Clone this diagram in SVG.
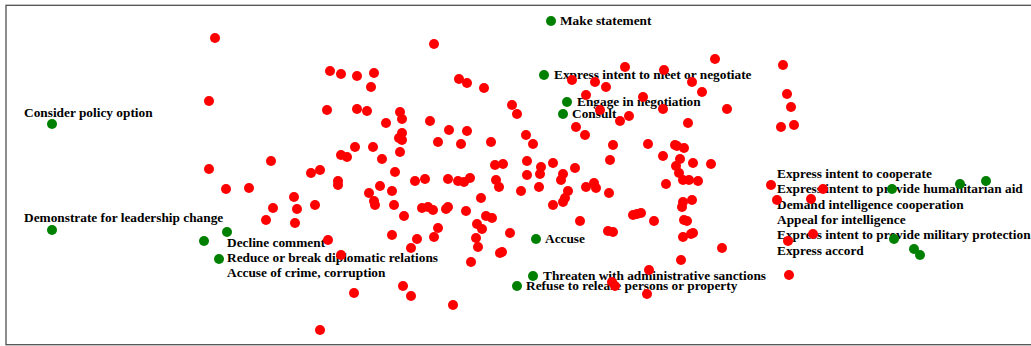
<svg xmlns="http://www.w3.org/2000/svg" width="1031" height="346" viewBox="0 0 1031 346">
<style>
.r{fill:#ff0000}
.g{fill:#008000}
text{font-family:"Liberation Serif","Times New Roman",serif;font-weight:bold;font-size:13.33px;fill:#000}
</style>
<rect x="0" y="0" width="1031" height="346" fill="#ffffff"/>
<rect x="6" y="5.3" width="1040" height="339.4" fill="none" stroke="#505050" stroke-width="1.3"/>
<g id="labels">
<text x="560" y="24.5">Make statement</text>
<text x="554" y="79">Express intent to meet or negotiate</text>
<text x="577" y="105.5">Engage in negotiation</text>
<text x="572" y="117.5">Consult</text>
<text x="24" y="117">Consider policy option</text>
<text x="24" y="222.3">Demonstrate for leadership change</text>
<text x="227" y="246.5">Decline comment</text>
<text x="227" y="262">Reduce or break diplomatic relations</text>
<text x="227" y="277">Accuse of crime, corruption</text>
<text x="545" y="243">Accuse</text>
<text x="543" y="279.5">Threaten with administrative sanctions</text>
<text x="526" y="290">Refuse to release persons or property</text>
<text x="777" y="177.5">Express intent to cooperate</text>
<text x="777" y="193">Express intent to provide humanitarian aid</text>
<text x="777" y="208.5">Demand intelligence cooperation</text>
<text x="777" y="224">Appeal for intelligence</text>
<text x="777" y="239">Express intent to provide military protection</text>
<text x="777" y="254.5">Express accord</text>
</g>
<g id="red-points" class="r">
<circle cx="215" cy="38" r="5"/><circle cx="209" cy="101" r="5"/><circle cx="209" cy="169" r="5"/>
<circle cx="434" cy="44" r="5"/><circle cx="330" cy="71" r="5"/><circle cx="341" cy="74" r="5"/><circle cx="357" cy="76" r="5"/><circle cx="374" cy="73" r="5"/><circle cx="371" cy="87" r="5"/><circle cx="459" cy="79" r="5"/><circle cx="467" cy="83" r="5"/><circle cx="484" cy="88" r="5"/><circle cx="512" cy="105" r="5"/><circle cx="517" cy="114" r="5"/><circle cx="327" cy="110" r="5"/><circle cx="357" cy="109" r="5"/><circle cx="367" cy="111" r="5"/><circle cx="400" cy="112" r="5"/><circle cx="402" cy="119" r="5"/><circle cx="386" cy="123" r="5"/><circle cx="430" cy="121" r="5"/><circle cx="449" cy="130" r="5"/><circle cx="467" cy="131" r="5"/><circle cx="402" cy="133" r="5"/><circle cx="399" cy="138" r="5"/><circle cx="402" cy="140" r="5"/><circle cx="438" cy="142" r="5"/><circle cx="461" cy="144" r="5"/><circle cx="491" cy="142" r="5"/><circle cx="355" cy="147" r="5"/><circle cx="373" cy="147" r="5"/><circle cx="341" cy="155" r="5"/><circle cx="347" cy="157" r="5"/><circle cx="382" cy="159" r="5"/><circle cx="400" cy="152" r="5"/><circle cx="495" cy="165" r="5"/><circle cx="503" cy="164" r="5"/><circle cx="271" cy="161" r="5"/><circle cx="311" cy="173" r="5"/><circle cx="320" cy="170" r="5"/><circle cx="395" cy="172" r="5"/>
<circle cx="625" cy="67" r="5"/><circle cx="664" cy="70" r="5"/><circle cx="715" cy="59" r="5"/><circle cx="572" cy="80" r="5"/><circle cx="595" cy="82" r="5"/><circle cx="606" cy="87" r="5"/><circle cx="692" cy="82" r="5"/><circle cx="702" cy="92" r="5"/><circle cx="586" cy="95" r="5"/><circle cx="643" cy="97" r="5"/><circle cx="600" cy="110" r="5"/><circle cx="620" cy="121" r="5"/><circle cx="629" cy="116" r="5"/><circle cx="663" cy="109" r="5"/><circle cx="727" cy="109" r="5"/><circle cx="688" cy="123" r="5"/><circle cx="576" cy="127" r="5"/><circle cx="585" cy="135" r="5"/><circle cx="526" cy="135" r="5"/><circle cx="533" cy="144" r="5"/><circle cx="613" cy="145" r="5"/><circle cx="648" cy="144" r="5"/><circle cx="675" cy="145" r="5"/><circle cx="677" cy="146" r="5"/><circle cx="684" cy="148" r="5"/><circle cx="663" cy="156" r="5"/><circle cx="680" cy="159" r="5"/><circle cx="610" cy="160" r="5"/><circle cx="527" cy="161" r="5"/><circle cx="541" cy="167" r="5"/><circle cx="553" cy="163" r="5"/><circle cx="575" cy="168" r="5"/><circle cx="693" cy="163" r="5"/><circle cx="711" cy="164" r="5"/><circle cx="676" cy="166" r="5"/><circle cx="679" cy="173" r="5"/><circle cx="563" cy="174" r="5"/><circle cx="540" cy="174" r="5"/>
<circle cx="783" cy="65" r="5"/><circle cx="787" cy="94" r="5"/><circle cx="791" cy="107" r="5"/><circle cx="781" cy="127" r="5"/><circle cx="794" cy="125" r="5"/>
<circle cx="226" cy="189" r="5"/><circle cx="249" cy="188" r="5"/>
<circle cx="338" cy="181" r="5"/><circle cx="338" cy="185" r="5"/><circle cx="415" cy="181" r="5"/><circle cx="425" cy="179" r="5"/><circle cx="448" cy="179" r="5"/><circle cx="458" cy="181" r="5"/><circle cx="464" cy="182" r="5"/><circle cx="470" cy="178" r="5"/><circle cx="496" cy="180" r="5"/><circle cx="499" cy="187" r="5"/><circle cx="521" cy="191" r="5"/><circle cx="380" cy="186" r="5"/><circle cx="369" cy="193" r="5"/><circle cx="392" cy="191" r="5"/><circle cx="374" cy="201" r="5"/><circle cx="375" cy="205" r="5"/><circle cx="394" cy="205" r="5"/><circle cx="294" cy="197" r="5"/><circle cx="273" cy="208" r="5"/><circle cx="297" cy="209" r="5"/><circle cx="315" cy="205" r="5"/><circle cx="266" cy="220" r="5"/><circle cx="295" cy="223" r="5"/><circle cx="404" cy="216" r="5"/><circle cx="422" cy="208" r="5"/><circle cx="428" cy="207" r="5"/><circle cx="433" cy="210" r="5"/><circle cx="446" cy="209" r="5"/><circle cx="448" cy="207" r="5"/><circle cx="466" cy="211" r="5"/><circle cx="481" cy="198" r="5"/><circle cx="486" cy="216" r="5"/><circle cx="492" cy="218" r="5"/><circle cx="477" cy="224" r="5"/><circle cx="482" cy="229" r="5"/><circle cx="438" cy="228" r="5"/><circle cx="392" cy="235" r="5"/><circle cx="417" cy="239" r="5"/><circle cx="434" cy="237" r="5"/><circle cx="476" cy="238" r="5"/><circle cx="478" cy="247" r="5"/><circle cx="411" cy="248" r="5"/><circle cx="328" cy="240" r="5"/><circle cx="341" cy="255" r="5"/><circle cx="500" cy="253" r="5"/><circle cx="502" cy="252" r="5"/><circle cx="510" cy="233" r="5"/><circle cx="471" cy="262" r="5"/><circle cx="403" cy="286" r="5"/><circle cx="411" cy="296" r="5"/><circle cx="354" cy="293" r="5"/><circle cx="453" cy="305" r="5"/><circle cx="320" cy="330" r="5"/>
<circle cx="527" cy="175" r="5"/><circle cx="561" cy="180" r="5"/><circle cx="539" cy="187" r="5"/><circle cx="568" cy="191" r="5"/><circle cx="565" cy="198" r="5"/><circle cx="563" cy="202" r="5"/><circle cx="553" cy="205" r="5"/><circle cx="586" cy="187" r="5"/><circle cx="594" cy="183" r="5"/><circle cx="596" cy="188" r="5"/><circle cx="609" cy="193" r="5"/><circle cx="580" cy="221" r="5"/><circle cx="633" cy="215" r="5"/><circle cx="637" cy="214" r="5"/><circle cx="641" cy="213" r="5"/><circle cx="654" cy="221" r="5"/><circle cx="608" cy="231" r="5"/><circle cx="613" cy="232" r="5"/><circle cx="666" cy="184" r="5"/><circle cx="683" cy="180" r="5"/><circle cx="689" cy="180" r="5"/><circle cx="698" cy="181" r="5"/><circle cx="683" cy="202" r="5"/><circle cx="682" cy="207" r="5"/><circle cx="692" cy="200" r="5"/><circle cx="684" cy="220" r="5"/><circle cx="687" cy="221" r="5"/><circle cx="683" cy="237" r="5"/><circle cx="691" cy="234" r="5"/><circle cx="693" cy="233" r="5"/><circle cx="722" cy="248" r="5"/><circle cx="681" cy="260" r="5"/><circle cx="649" cy="270" r="5"/><circle cx="612" cy="282" r="5"/><circle cx="615" cy="286" r="5"/><circle cx="647" cy="294" r="5"/><circle cx="771" cy="185" r="5"/><circle cx="777" cy="200" r="5"/>
<circle cx="823" cy="189" r="5"/><circle cx="811" cy="199" r="5"/><circle cx="813" cy="234" r="5"/><circle cx="788" cy="241" r="5"/><circle cx="789" cy="275" r="5"/>
</g>
<g id="make-statement" class="g"><circle cx="551" cy="21" r="5"/></g>
<g id="express-intent-meet" class="g"><circle cx="544" cy="75" r="5"/></g>
<g id="engage-negotiation" class="g"><circle cx="567" cy="102" r="5"/></g>
<g id="consult" class="g"><circle cx="563" cy="114" r="5"/></g>
<g id="consider-policy" class="g"><circle cx="52" cy="124" r="5"/></g>
<g id="demonstrate" class="g"><circle cx="52" cy="230" r="5"/></g>
<g id="decline-comment" class="g"><circle cx="227" cy="232" r="5"/></g>
<g id="reduce-relations" class="g"><circle cx="204" cy="241" r="5"/></g>
<g id="accuse-crime" class="g"><circle cx="219" cy="259" r="5"/></g>
<g id="accuse" class="g"><circle cx="536" cy="239" r="5"/></g>
<g id="threaten" class="g"><circle cx="533" cy="276" r="5"/></g>
<g id="refuse-release" class="g"><circle cx="517" cy="286" r="5"/></g>
<g id="express-cooperate" class="g"><circle cx="892" cy="189" r="5"/></g>
<g id="humanitarian-aid" class="g"><circle cx="960" cy="184" r="5"/></g>
<g id="demand-intel" class="g"><circle cx="986" cy="181" r="5"/></g>
<g id="appeal-intel" class="g"><circle cx="894" cy="239" r="5"/></g>
<g id="military-protection" class="g"><circle cx="914" cy="249" r="5"/></g>
<g id="express-accord" class="g"><circle cx="920" cy="255" r="5"/></g>
</svg>
